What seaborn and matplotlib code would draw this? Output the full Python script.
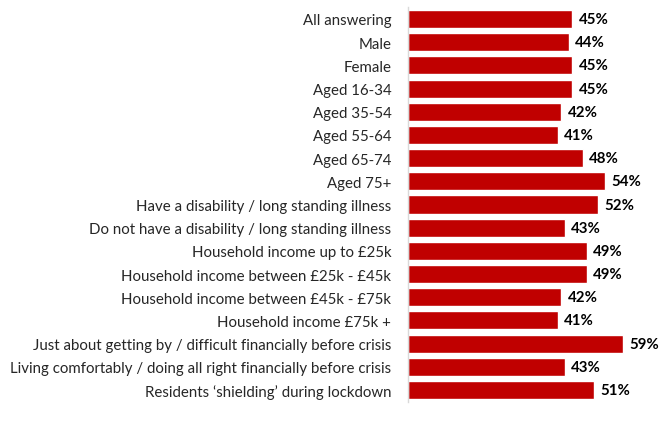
import matplotlib
matplotlib.use("Agg")
import matplotlib.pyplot as plt
import seaborn as sns
import pandas as pd

categories = [
    "All answering", "Male", "Female", "Aged 16-34", "Aged 35-54", "Aged 55-64",
    "Aged 65-74", "Aged 75+", "Have a disability / long standing illness",
    "Do not have a disability / long standing illness", "Household income up to £25k",
    "Household income between £25k - £45k", "Household income between £45k - £75k",
    "Household income £75k +", "Just about getting by / difficult financially before crisis",
    "Living comfortably / doing all right financially before crisis",
    "Residents \u2018shielding\u2019 during lockdown",
]
values = [45, 44, 45, 45, 42, 41, 48, 54, 52, 43, 49, 49, 42, 41, 59, 43, 51]

df = pd.DataFrame({"category": categories, "value": values})

sns.set_style("white")
plt.rcParams["font.family"] = ["Lato", "DejaVu Sans"]

fig = plt.figure(figsize=(6.67, 4.31), dpi=100)
W, H = 667, 431
left_px, right_px = 408, 660
top_px, bot_px = 8.4, 402.6
ax = fig.add_axes([left_px / W, 1 - bot_px / H, (right_px - left_px) / W, (bot_px - top_px) / H])

sns.barplot(data=df, x="value", y="category", orient="h", color="#C00000",
            width=0.78, saturation=1, ax=ax)

ax.set_xlim(0, (right_px - left_px) / 3.65)
ax.set_ylim(len(categories) - 0.5, -0.5)
ax.set_xlabel("")
ax.set_ylabel("")
ax.set_xticks([])
for s in ["top", "right", "bottom"]:
    ax.spines[s].set_visible(False)
ax.spines["left"].set_color("#D9D9D9")
ax.spines["left"].set_linewidth(1)
ax.tick_params(axis="y", length=0, pad=12, labelsize=10.8, labelcolor="#262626")

for i, v in enumerate(values):
    ax.text(v + 1.7, i, f"{v}%", va="center", ha="left", fontsize=10.8,
            fontweight="bold", color="#000000")

fig.savefig("out.png", dpi=100)
